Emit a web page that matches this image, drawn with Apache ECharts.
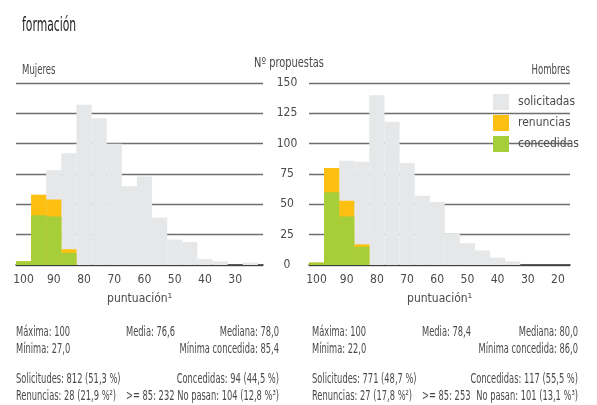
<!DOCTYPE html>
<html>
<head>
<meta charset="utf-8">
<script src="https://cdn.jsdelivr.net/npm/echarts@6/dist/echarts.min.js"></script>
<style>
html,body{margin:0;padding:0;background:#fff;}
#c{width:597px;height:405px;}
</style>
</head>
<body>
<div id="c"></div>
<script>
// ---- data ----
var bins = [100, 95, 90, 85, 80, 75, 70, 65, 60, 55, 50, 45, 40, 35, 30, 25, 20];
var xTickLabelsLeft = [100, 90, 80, 70, 60, 50, 40, 30];
var xTickLabelsRight = [100, 90, 80, 70, 60, 50, 40, 30, 20];

var mujeresSolicitadas = [3, 58, 78, 92, 132, 121, 100, 65, 73, 39, 21, 19, 5, 3, 0, 2];
var mujeresConcedidas  = [3, 41, 40, 10, 0, 0, 0, 0, 0, 0, 0, 0, 0, 0, 0, 0];
var mujeresRenuncias   = [0, 17, 14, 3, 0, 0, 0, 0, 0, 0, 0, 0, 0, 0, 0, 0];

var hombresSolicitadas = [2, 80, 86, 85, 140, 118, 84, 57, 52, 26, 18, 12, 6, 3, 0, 0, 0];
var hombresConcedidas  = [2, 60, 40, 15, 0, 0, 0, 0, 0, 0, 0, 0, 0, 0, 0, 0, 0];
var hombresRenuncias   = [0, 20, 13, 2, 0, 0, 0, 0, 0, 0, 0, 0, 0, 0, 0, 0, 0];

var mujeresStats = [
  ['Máxima: 100', 'Media: 76,6', 'Mediana: 78,0'],
  ['Mínima: 27,0', '', 'Mínima concedida: 85,4'],
  ['Solicitudes: 812 (51,3 %)', '', 'Concedidas: 94 (44,5 %)'],
  ['Renuncias: 28 (21,9 %²)', '>= 85: 232', 'No pasan: 104 (12,8 %³)']
];
var hombresStats = [
  ['Máxima: 100', 'Media: 78,4', 'Mediana: 80,0'],
  ['Mínima: 22,0', '', 'Mínima concedida: 86,0'],
  ['Solicitudes: 771 (48,7 %)', '', 'Concedidas: 117 (55,5 %)'],
  ['Renuncias: 27 (17,8 %²)', '>= 85: 253', 'No pasan: 101 (13,1 %³)']
];

var yTicks = [0, 25, 50, 75, 100, 125, 150];

// ---- styles ----
var FONT = '"DejaVu Sans Condensed", "Liberation Sans Narrow", sans-serif';
var TXT = '#4a4a4a';
var C_SOL = '#e6e7e8', C_REN = '#fdc010', C_CON = '#a6ce39';
var GRID_COLOR = '#6e6e6e';

function pairs(vals) {
  return vals.map(function (v, i) { return [bins[i], v]; });
}
// renuncias sit on top of concedidas: the orange bar reaches concedidas + renuncias
function stackedTop(base, top) {
  return base.map(function (v, i) { return v + top[i]; });
}

var chart = echarts.init(document.getElementById('c'), null, {renderer: 'canvas'});

function xAxisCfg(idx, min, ticks) {
  return {
    type: 'value', gridIndex: idx, inverse: true, min: min, max: 102.5,
    axisLine: {show: true, lineStyle: {color: '#333', width: 1.6}},
    axisTick: {show: false},
    splitLine: {show: false},
    axisLabel: {show: true, customValues: ticks, color: TXT, fontFamily: FONT, fontSize: 12, margin: 9},
    name: 'puntuación¹', nameLocation: 'middle', nameGap: 28,
    nameTextStyle: {color: TXT, fontFamily: FONT, fontSize: 12}
  };
}
function yAxisCfg(idx, showLabel) {
  return {
    type: 'value', gridIndex: idx, min: 0, max: 150, interval: 25,
    position: 'right',
    axisLine: {show: false}, axisTick: {show: false},
    splitLine: {show: true, lineStyle: {color: GRID_COLOR, width: 1.3}},
    axisLabel: {show: showLabel, color: TXT, fontFamily: FONT, fontSize: 12, align: 'center', margin: 24,
      customValues: yTicks}
  };
}
function barSeries(name, color, idx, vals, bw) {
  return {
    name: name, type: 'bar', xAxisIndex: idx, yAxisIndex: idx,
    data: pairs(vals), barWidth: bw, barGap: '-100%',
    itemStyle: {color: color}, silent: true, animation: false
  };
}

var graphics = [];
function txt(x, y, text, align, size, color, sx) {
  graphics.push({
    type: 'text', x: x, y: y, scaleX: sx || 0.66, silent: true,
    style: {text: text, x: 0, y: 0, textAlign: align, textVerticalAlign: 'middle',
      fontFamily: FONT, fontSize: size, fill: color || TXT}
  });
}
txt(22, 26, 'formación', 'left', 20, '#222', 0.6);
txt(22, 70, 'Mujeres', 'left', 14, TXT, 0.68);
txt(570, 70, 'Hombres', 'right', 14, TXT, 0.68);
txt(289, 63, 'Nº propuestas', 'center', 14, TXT, 0.78);

var rowsY = [332, 349, 379, 396];
function statsBlock(stats, x0, xm, x1) {
  stats.forEach(function (row, r) {
    if (row[0]) txt(x0, rowsY[r], row[0], 'left', 14);
    if (row[1]) txt(xm, rowsY[r], row[1], 'left', 14);
    if (row[2]) txt(x1, rowsY[r], row[2], 'right', 14);
  });
}
statsBlock(mujeresStats, 16, 126, 279);
statsBlock(hombresStats, 312, 422, 578);

var option = {
  backgroundColor: '#fff',
  animation: false,
  grid: [
    {left: 16, width: 247, top: 83, height: 182},
    {left: 309, width: 261, top: 83, height: 182}
  ],
  xAxis: [xAxisCfg(0, 20.8, xTickLabelsLeft), xAxisCfg(1, 16, xTickLabelsRight)],
  yAxis: [yAxisCfg(0, true), yAxisCfg(1, false)],
  legend: {
    data: ['solicitadas', 'renuncias', 'concedidas'],
    orient: 'vertical', left: 493, top: 94, padding: 0, itemWidth: 16, itemHeight: 16, itemGap: 5,
    icon: 'rect', selectedMode: false,
    textStyle: {color: TXT, fontFamily: FONT, fontSize: 12, padding: [0, 0, 0, 4]}
  },
  series: [
    barSeries('solicitadas', C_SOL, 0, mujeresSolicitadas, 15.2),
    barSeries('renuncias', C_REN, 0, stackedTop(mujeresConcedidas, mujeresRenuncias), 15.2),
    barSeries('concedidas', C_CON, 0, mujeresConcedidas, 15.2),
    barSeries('solicitadas', C_SOL, 1, hombresSolicitadas, 15.2),
    barSeries('renuncias', C_REN, 1, stackedTop(hombresConcedidas, hombresRenuncias), 15.2),
    barSeries('concedidas', C_CON, 1, hombresConcedidas, 15.2)
  ],
  graphic: graphics
};
chart.setOption(option);
</script>
</body>
</html>
